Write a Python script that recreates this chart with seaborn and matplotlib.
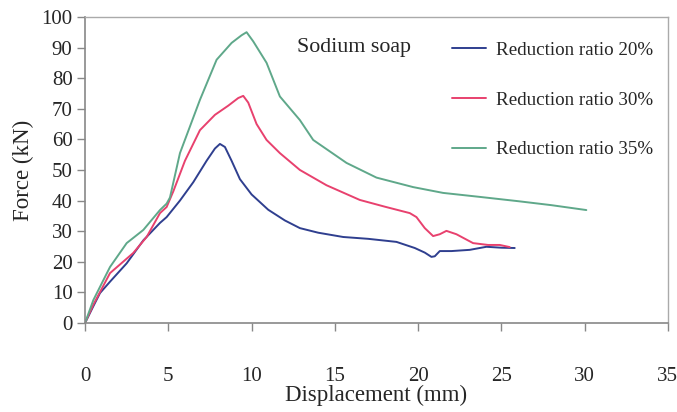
import pandas as pd
import matplotlib.pyplot as plt
import seaborn as sns
from matplotlib.lines import Line2D

# Force-displacement curves
x_20 = [0, 0.5, 0.9, 1.5, 2.5, 3.5, 4.5, 4.9, 5.7, 6.5, 7.3, 7.8, 8.1, 8.4, 8.8, 9.3, 10,
        11, 12, 12.9, 14, 15.5, 17, 18.7, 19.8, 20.4, 20.8, 21.0, 21.3, 22, 23.1, 24.1, 25, 25.8]
y_20 = [0, 5.5, 9.8, 13.5, 19.5, 27, 32.7, 34.6, 40, 46, 53, 57, 58.5, 57.5, 53, 47, 42,
        37, 33.5, 31, 29.5, 28.1, 27.5, 26.5, 24.5, 23, 21.6, 21.8, 23.5, 23.5, 23.9, 24.9, 24.6, 24.5]

x_30 = [0, 0.5, 1.5, 2.9, 3.7, 4.5, 4.9, 5.3, 6, 6.9, 7.8, 8.6, 9.2, 9.5, 9.8, 10.3, 10.9,
        11.7, 12.9, 14.5, 16.5, 18, 19.5, 19.9, 20.4, 20.9, 21.3, 21.7, 22.3, 23.3, 24.2, 24.9, 25.5]
y_30 = [0, 6, 16.3, 22.9, 28.1, 35.9, 37.9, 43, 53, 63, 68, 71, 73.5, 74.2, 72, 65, 59.8,
        55.5, 50, 45, 40.2, 38, 35.9, 34.6, 31, 28.4, 29, 30.1, 29, 26.1, 25.5, 25.5, 24.8]

x_35 = [0, 0.5, 1.5, 2.5, 3.5, 4.5, 4.9, 5.1, 5.7, 6.9, 7.9, 8.8, 9.4, 9.7, 10.1, 10.9,
        11.7, 12.9, 13.7, 15.7, 17.5, 19.7, 21.5, 23.7, 26, 28, 30.1]
y_35 = [0, 7.5, 18.3, 26.1, 30.4, 36.9, 39, 41, 55.5, 72.9, 86, 91.5, 94, 95, 92, 85,
        74, 66.3, 59.8, 52.3, 47.5, 44.4, 42.5, 41.2, 39.8, 38.5, 36.9]

labels = ['Reduction ratio 20%', 'Reduction ratio 30%', 'Reduction ratio 35%']
colors = ['#2f3f8f', '#e8416e', '#5fa88a']
x_ticks = [0, 5, 10, 15, 20, 25, 30, 35]
y_ticks = [0, 10, 20, 30, 40, 50, 60, 70, 80, 90, 100]

frames = []
for lab, xs, ys in zip(labels, [x_20, x_30, x_35], [y_20, y_30, y_35]):
    frames.append(pd.DataFrame({'Displacement': xs, 'Force': ys, 'Series': lab}))
df = pd.concat(frames, ignore_index=True)

sns.set_style('white')
plt.rcParams['font.family'] = ['Liberation Serif', 'DejaVu Serif']

fig = plt.figure(figsize=(6.77, 4.12), dpi=100)
ax = fig.add_axes([0.1256, 0.216, 0.861, 0.743])

sns.lineplot(data=df, x='Displacement', y='Force', hue='Series', palette=colors,
             sort=False, estimator=None, linewidth=1.4, legend=False, ax=ax)

ax.set_xlim(0, 35)
ax.set_ylim(0, 100)
ax.set_xticks(x_ticks)
ax.set_yticks(y_ticks)
ax.tick_params(axis='x', bottom=True, direction='out', length=6, width=1,
               color='#888888', pad=26, labelsize=15)
ax.tick_params(axis='y', left=True, direction='out', length=6, width=1,
               color='#888888', pad=3, labelsize=15)
for side in ['left', 'bottom']:
    ax.spines[side].set_color('#888888')
    ax.spines[side].set_linewidth(1.2)
for side in ['top', 'right']:
    ax.spines[side].set_color('#aaaaaa')
    ax.spines[side].set_linewidth(1.0)

ax.set_xlabel('Displacement (mm)', fontsize=16.5, labelpad=-1)
ax.set_ylabel('Force (kN)', fontsize=16.5, labelpad=5)

ax.text(0.364, 0.9, 'Sodium soap', transform=ax.transAxes, fontsize=15.8,
        va='center', ha='left')

handles = [Line2D([0], [0], color=c, lw=1.4) for c in colors]
ax.legend(handles, labels, loc='upper left', bbox_to_anchor=(0.6, 0.975),
          frameon=False, fontsize=13.7, handlelength=1.8, handletextpad=0.5,
          labelspacing=1.7)

fig.savefig('out.png', dpi=100)
